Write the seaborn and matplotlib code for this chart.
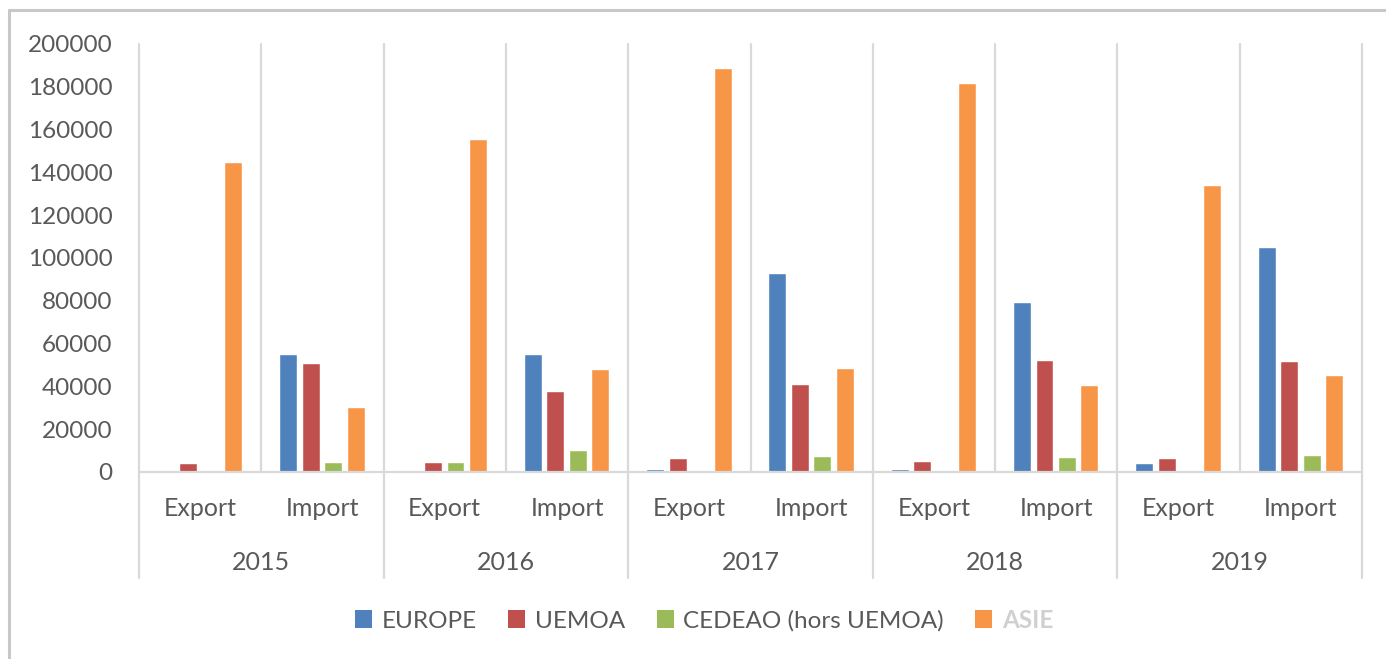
import matplotlib
matplotlib.use("Agg")
import matplotlib.pyplot as plt
import matplotlib.transforms as mtransforms
from matplotlib.lines import Line2D
from matplotlib.patches import Patch
import pandas as pd
import seaborn as sns

# Trade flows by partner zone
years = ["2015", "2016", "2017", "2018", "2019"]
flows = ["Export", "Import"]
regions = ["EUROPE", "UEMOA", "CEDEAO (hors UEMOA)", "ASIE"]

europe = [0, 54700, 0, 54700, 1000, 92600, 1000, 79000, 3800, 104800]
uemoa = [3800, 50500, 4400, 37500, 6000, 40700, 4700, 52000, 6000, 51500]
cedeao = [0, 4200, 4000, 10000, 700, 7000, 0, 6500, 300, 7500]
asie = [144500, 30000, 155000, 47500, 188500, 48100, 181300, 40300, 133700, 45000]

colors = ["#4F81BD", "#C0504D", "#9BBB59", "#F79646"]
text_grey = "#595959"
line_grey = "#D9D9D9"

categories = [f"{y} {f}" for y in years for f in flows]
series = dict(zip(regions, [europe, uemoa, cedeao, asie]))
df = pd.DataFrame(
    [(c, r, v) for r, vals in series.items() for c, v in zip(categories, vals)],
    columns=["categorie", "zone", "valeur"],
)

sns.set_theme(style="white")
plt.rcParams["font.family"] = ["Lato", "DejaVu Sans"]

W, H = 1386, 659
fig = plt.figure(figsize=(W / 100, H / 100), dpi=100)
x0, x1, y_top, y_bot = 139, 1362, 44, 472
ax = fig.add_axes([x0 / W, 1 - y_bot / H, (x1 - x0) / W, (y_bot - y_top) / H])

sns.barplot(
    data=df, x="categorie", y="valeur", hue="zone",
    order=categories, hue_order=regions, palette=colors,
    width=0.735, gap=0.245, saturation=1, ax=ax, legend=False,
    edgecolor="white", linewidth=0.3,
)

ax.set_xlim(-0.5, len(categories) - 0.5)
ax.set_ylim(0, 200000)
ax.set_yticks(range(0, 200001, 20000))
ax.set_yticklabels([str(v) for v in range(0, 200001, 20000)])
ax.set_xlabel("")
ax.set_ylabel("")
for s in ["top", "right", "left"]:
    ax.spines[s].set_visible(False)
ax.spines["bottom"].set_color(line_grey)
ax.spines["bottom"].set_linewidth(1.6)
ax.tick_params(axis="both", length=0, colors=text_grey, labelsize=17.5)
ax.tick_params(axis="y", pad=19)
ax.tick_params(axis="x", labelsize=18, pad=18)
ax.set_xticks(range(len(categories)))
ax.set_xticklabels([f for _ in years for f in flows])

# Category separators; year boundaries extend into the label band
trans = mtransforms.blended_transform_factory(ax.transData, ax.transAxes)
for i in range(len(categories) + 1):
    xb = i - 0.5
    ybottom = -0.248 if i % 2 == 0 else 0.0
    ax.add_line(Line2D([xb, xb], [ybottom, 1.0], transform=trans,
                       color=line_grey, lw=1.6, clip_on=False, zorder=0))

for k, y in enumerate(years):
    ax.text(2 * k + 0.5, -0.212, y, transform=trans, ha="center", va="center",
            fontsize=18, color=text_grey)

# Legend
handles = [Patch(facecolor=c, edgecolor="none") for c in colors]
leg = fig.legend(handles, regions, loc="center", bbox_to_anchor=(0.508, 1 - 620 / H),
                 ncol=4, frameon=False, fontsize=17.5, handlelength=0.7,
                 handleheight=0.7, handletextpad=0.4, columnspacing=1.3)
for t in leg.get_texts():
    t.set_color(text_grey)
leg.get_texts()[-1].set_color("#D0D0D0")
leg.get_texts()[-1].set_fontweight("bold")

# Outer frame (left and top edges)
fig.add_artist(Line2D([9 / W, 9 / W], [0, 1 - 10 / H], color="#C8C8C8", lw=2.2))
fig.add_artist(Line2D([9 / W, 1], [1 - 10 / H, 1 - 10 / H], color="#C8C8C8", lw=2.2))

fig.savefig("out.png", dpi=100, facecolor="white")
